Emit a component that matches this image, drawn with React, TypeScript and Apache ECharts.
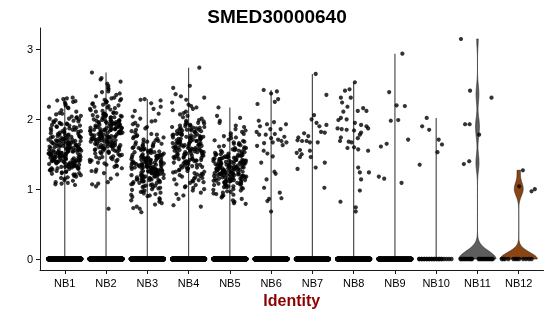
import React, { useEffect, useRef } from "react";
import * as echarts from "echarts";

const CATEGORIES = ["NB1", "NB2", "NB3", "NB4", "NB5", "NB6", "NB7", "NB8", "NB9", "NB10", "NB11", "NB12"];
const Y_TICKS = [0, 1, 2, 3];
const TITLE = "SMED30000640";
const X_TITLE = "Identity";

// dense clusters: non-zero expression values
const NB1_VALUES = [
  2.31, 2.30, 2.29, 2.27, 2.26, 2.25, 2.24, 2.22, 2.20, 2.18, 2.17, 2.16, 2.13, 2.11,
  2.09, 2.08, 2.07, 2.05, 2.04, 2.03, 2.02, 2.01, 2.01, 2.00,
  1.99, 1.98, 1.97, 1.97, 1.96, 1.95, 1.94, 1.94, 1.93, 1.93, 1.92, 1.91, 1.91, 1.90,
  1.89, 1.89, 1.88, 1.87, 1.87, 1.86, 1.85, 1.85, 1.84, 1.83, 1.83, 1.82, 1.82, 1.81, 1.81, 1.80,
  1.79, 1.79, 1.78, 1.78, 1.77, 1.77, 1.76, 1.76, 1.75, 1.75, 1.75, 1.74, 1.74, 1.73, 1.73, 1.72, 1.72, 1.72, 1.71, 1.71, 1.70, 1.70,
  1.69, 1.69, 1.69, 1.68, 1.68, 1.68, 1.67, 1.67, 1.67, 1.66, 1.66, 1.66, 1.65, 1.65, 1.65, 1.64, 1.64, 1.64, 1.63, 1.63, 1.63, 1.62, 1.62, 1.62, 1.61, 1.61, 1.61, 1.60, 1.60, 1.60,
  1.59, 1.59, 1.59, 1.58, 1.58, 1.58, 1.58, 1.57, 1.57, 1.57, 1.56, 1.56, 1.56, 1.56, 1.55, 1.55, 1.55, 1.54, 1.54, 1.54, 1.54, 1.53, 1.53, 1.53, 1.52, 1.52, 1.52, 1.52, 1.51, 1.51, 1.51, 1.50, 1.50, 1.50, 1.50, 1.50,
  1.49, 1.49, 1.49, 1.48, 1.48, 1.48, 1.48, 1.47, 1.47, 1.47, 1.46, 1.46, 1.46, 1.46, 1.45, 1.45, 1.45, 1.44, 1.44, 1.44, 1.44, 1.43, 1.43, 1.43, 1.42, 1.42, 1.42, 1.42, 1.41, 1.41, 1.41, 1.40, 1.40, 1.40, 1.40, 1.40,
  1.39, 1.39, 1.39, 1.38, 1.38, 1.38, 1.37, 1.37, 1.37, 1.36, 1.36, 1.36, 1.35, 1.35, 1.35, 1.34, 1.34, 1.33, 1.33, 1.33, 1.32, 1.32, 1.32, 1.31, 1.31, 1.30, 1.30, 1.30,
  1.29, 1.29, 1.28, 1.28, 1.27, 1.27, 1.26, 1.25, 1.25, 1.24, 1.23, 1.23, 1.22, 1.21, 1.21, 1.20,
  1.19, 1.18, 1.17, 1.16, 1.15, 1.13, 1.12, 1.10, 1.09, 1.08, 1.07, 1.06,
];
const NB2_VALUES = [
  2.67, 2.59, 2.57, 2.54, 2.51, 2.48, 2.45, 2.43, 2.40, 2.39, 2.37, 2.35, 2.33, 2.31, 2.30,
  2.29, 2.28, 2.27, 2.26, 2.25, 2.24, 2.23, 2.22, 2.21, 2.20, 2.19, 2.18, 2.17, 2.16, 2.15, 2.14, 2.13, 2.12, 2.11, 2.10,
  2.09, 2.09, 2.08, 2.08, 2.07, 2.07, 2.06, 2.06, 2.05, 2.05, 2.04, 2.04, 2.03, 2.03, 2.02, 2.02, 2.01, 2.00,
  1.99, 1.99, 1.99, 1.98, 1.98, 1.98, 1.97, 1.97, 1.97, 1.96, 1.96, 1.96, 1.95, 1.95, 1.94, 1.94, 1.94, 1.93, 1.93, 1.93, 1.92, 1.92, 1.91, 1.91, 1.90, 1.90,
  1.89, 1.89, 1.89, 1.88, 1.88, 1.88, 1.87, 1.87, 1.87, 1.86, 1.86, 1.86, 1.85, 1.85, 1.85, 1.84, 1.84, 1.84, 1.83, 1.83, 1.83, 1.82, 1.82, 1.82, 1.81, 1.81, 1.81, 1.80, 1.80, 1.80,
  1.79, 1.79, 1.79, 1.78, 1.78, 1.78, 1.77, 1.77, 1.77, 1.76, 1.76, 1.76, 1.75, 1.75, 1.75, 1.74, 1.74, 1.74, 1.73, 1.73, 1.73, 1.72, 1.72, 1.72, 1.71, 1.71, 1.71, 1.70, 1.70, 1.70,
  1.69, 1.69, 1.68, 1.68, 1.67, 1.67, 1.66, 1.66, 1.66, 1.65, 1.65, 1.64, 1.64, 1.63, 1.63, 1.63, 1.62, 1.62, 1.61, 1.61, 1.61, 1.60, 1.60, 1.60,
  1.59, 1.59, 1.58, 1.58, 1.57, 1.57, 1.56, 1.56, 1.55, 1.55, 1.54, 1.54, 1.53, 1.53, 1.52, 1.51, 1.51, 1.50,
  1.49, 1.48, 1.47, 1.46, 1.46, 1.45, 1.44, 1.43, 1.42, 1.42, 1.41, 1.40,
  1.39, 1.38, 1.37, 1.35, 1.34, 1.33, 1.32, 1.30, 1.28, 1.26, 1.25, 1.23, 1.21,
  1.15, 1.10, 1.08, 1.07, 1.04, 0.72,
];
const NB3_VALUES = [
  2.29, 2.28, 2.27, 2.23, 2.18, 2.15, 2.12, 2.08, 2.04, 2.01,
  1.98, 1.97, 1.95, 1.93, 1.91, 1.89, 1.87, 1.85, 1.83, 1.81,
  1.79, 1.78, 1.77, 1.76, 1.75, 1.74, 1.73, 1.72, 1.71, 1.70,
  1.69, 1.68, 1.67, 1.67, 1.66, 1.65, 1.64, 1.63, 1.63, 1.62, 1.61, 1.60,
  1.59, 1.59, 1.58, 1.58, 1.57, 1.57, 1.56, 1.56, 1.55, 1.55, 1.54, 1.54, 1.53, 1.53, 1.52, 1.52, 1.51, 1.50,
  1.49, 1.49, 1.49, 1.48, 1.48, 1.48, 1.47, 1.47, 1.47, 1.46, 1.46, 1.46, 1.45, 1.45, 1.45, 1.44, 1.44, 1.44, 1.43, 1.43, 1.43, 1.42, 1.42, 1.42, 1.41, 1.41, 1.40, 1.40,
  1.39, 1.39, 1.39, 1.39, 1.38, 1.38, 1.38, 1.37, 1.37, 1.37, 1.37, 1.36, 1.36, 1.36, 1.35, 1.35, 1.35, 1.35, 1.34, 1.34, 1.34, 1.33, 1.33, 1.33, 1.32, 1.32, 1.32, 1.32, 1.31, 1.31, 1.31, 1.30, 1.30, 1.30,
  1.29, 1.29, 1.29, 1.28, 1.28, 1.28, 1.28, 1.27, 1.27, 1.27, 1.26, 1.26, 1.26, 1.25, 1.25, 1.25, 1.25, 1.24, 1.24, 1.24, 1.23, 1.23, 1.23, 1.22, 1.22, 1.22, 1.21, 1.21, 1.21, 1.20, 1.20, 1.20,
  1.19, 1.19, 1.18, 1.18, 1.18, 1.17, 1.17, 1.16, 1.16, 1.16, 1.15, 1.15, 1.14, 1.14, 1.14, 1.13, 1.13, 1.12, 1.12, 1.12, 1.11, 1.11, 1.10, 1.10,
  1.09, 1.09, 1.08, 1.07, 1.07, 1.06, 1.05, 1.05, 1.04, 1.03, 1.03, 1.02, 1.01, 1.00,
  0.99, 0.98, 0.97, 0.96, 0.95, 0.94, 0.93, 0.92, 0.91, 0.90,
  0.89, 0.87, 0.85, 0.84, 0.82, 0.80, 0.78, 0.75, 0.73, 0.72, 0.67,
];
const NB4_VALUES = [
  2.74, 2.48, 2.45, 2.36, 2.33, 2.31, 2.28, 2.24, 2.21,
  2.19, 2.17, 2.15, 2.13, 2.11, 2.09, 2.07, 2.05, 2.03, 2.01,
  1.99, 1.98, 1.97, 1.96, 1.95, 1.94, 1.94, 1.93, 1.92, 1.91, 1.91, 1.90,
  1.89, 1.89, 1.88, 1.88, 1.87, 1.87, 1.86, 1.86, 1.85, 1.85, 1.84, 1.84, 1.83, 1.83, 1.82, 1.82, 1.81, 1.80,
  1.79, 1.79, 1.78, 1.78, 1.78, 1.77, 1.77, 1.76, 1.76, 1.75, 1.75, 1.75, 1.74, 1.74, 1.73, 1.73, 1.72, 1.72, 1.72, 1.71, 1.71, 1.70,
  1.69, 1.69, 1.69, 1.68, 1.68, 1.67, 1.67, 1.67, 1.66, 1.66, 1.65, 1.65, 1.65, 1.64, 1.64, 1.63, 1.63, 1.63, 1.62, 1.62, 1.61, 1.61, 1.60, 1.60,
  1.59, 1.59, 1.59, 1.58, 1.58, 1.57, 1.57, 1.57, 1.56, 1.56, 1.55, 1.55, 1.55, 1.54, 1.54, 1.53, 1.53, 1.53, 1.52, 1.52, 1.51, 1.51, 1.50, 1.50,
  1.49, 1.49, 1.48, 1.48, 1.47, 1.47, 1.46, 1.46, 1.45, 1.45, 1.44, 1.44, 1.43, 1.43, 1.42, 1.42, 1.41, 1.41, 1.40, 1.40,
  1.39, 1.39, 1.38, 1.37, 1.37, 1.36, 1.35, 1.35, 1.34, 1.33, 1.33, 1.32, 1.31, 1.31, 1.30, 1.30,
  1.29, 1.28, 1.27, 1.26, 1.25, 1.25, 1.24, 1.23, 1.22, 1.21, 1.21, 1.20,
  1.19, 1.18, 1.17, 1.16, 1.15, 1.14, 1.13, 1.12, 1.11, 1.10,
  1.09, 1.07, 1.06, 1.04, 1.03, 1.02, 1.00, 0.98, 0.95, 0.93, 0.91, 0.86, 0.77, 0.75,
];
const NB5_VALUES = [
  2.17, 2.05, 2.02, 1.98, 1.95, 1.91, 1.89, 1.86, 1.84, 1.82, 1.80,
  1.79, 1.77, 1.76, 1.74, 1.73, 1.71, 1.70,
  1.69, 1.68, 1.67, 1.66, 1.65, 1.64, 1.63, 1.62, 1.61, 1.60,
  1.59, 1.59, 1.58, 1.57, 1.57, 1.56, 1.55, 1.55, 1.54, 1.53, 1.53, 1.52, 1.51, 1.51, 1.50, 1.50,
  1.49, 1.49, 1.49, 1.48, 1.48, 1.48, 1.47, 1.47, 1.46, 1.46, 1.46, 1.45, 1.45, 1.45, 1.44, 1.44, 1.43, 1.43, 1.43, 1.42, 1.42, 1.42, 1.41, 1.41, 1.41, 1.40, 1.40, 1.40,
  1.39, 1.39, 1.39, 1.39, 1.38, 1.38, 1.38, 1.38, 1.37, 1.37, 1.37, 1.36, 1.36, 1.36, 1.36, 1.35, 1.35, 1.35, 1.34, 1.34, 1.34, 1.34, 1.33, 1.33, 1.33, 1.32, 1.32, 1.32, 1.32, 1.31, 1.31, 1.31, 1.30, 1.30, 1.30, 1.30,
  1.29, 1.29, 1.29, 1.29, 1.28, 1.28, 1.28, 1.28, 1.27, 1.27, 1.27, 1.26, 1.26, 1.26, 1.26, 1.25, 1.25, 1.25, 1.24, 1.24, 1.24, 1.24, 1.23, 1.23, 1.23, 1.22, 1.22, 1.22, 1.22, 1.21, 1.21, 1.21, 1.20, 1.20, 1.20, 1.20,
  1.19, 1.19, 1.19, 1.18, 1.18, 1.18, 1.17, 1.17, 1.16, 1.16, 1.16, 1.15, 1.15, 1.15, 1.14, 1.14, 1.13, 1.13, 1.13, 1.12, 1.12, 1.12, 1.11, 1.11, 1.11, 1.10, 1.10, 1.10,
  1.09, 1.09, 1.08, 1.08, 1.07, 1.07, 1.06, 1.06, 1.05, 1.04, 1.04, 1.03, 1.03, 1.02, 1.01, 1.00,
  0.99, 0.98, 0.97, 0.96, 0.95, 0.94, 0.93, 0.92, 0.91, 0.90, 0.88, 0.86, 0.84, 0.82, 0.80, 0.79,
];

// sparse clusters: [jitter offset, value]
const NB6_POINTS = [
  [-0.18, 2.42], [0, 2.37], [0.14, 2.40], [0.17, 2.29], [0.09, 2.25], [-0.33, 2.22], [-0.3, 1.98], [-0.1, 1.93],
  [0.07, 1.96], [0.36, 1.93], [-0.27, 1.9], [-0.02, 1.86], [0.23, 1.86], [-0.35, 1.82], [-0.29, 1.78], [-0.13, 1.78],
  [0.09, 1.79], [0, 1.73], [0.17, 1.71], [0.32, 1.75], [-0.17, 1.66], [0.04, 1.67], [0.25, 1.69], [0.37, 1.67],
  [-0.34, 1.62], [0.28, 1.63], [-0.18, 1.55], [-0.09, 1.51], [0.04, 1.47], [-0.24, 1.38], [0.08, 1.25], [0.11, 1.22],
  [-0.11, 1.14], [-0.17, 1.02], [0.21, 0.95], [0.25, 0.87], [-0.05, 0.86], [-0.09, 0.83], [0, 0.68],
];
const NB7_POINTS = [
  [0.08, 2.65], [0.34, 2.35], [0.04, 2.06], [-0.02, 2.0], [0.1, 1.95], [0.17, 1.9], [0.34, 1.92], [0.21, 1.82],
  [0.3, 1.81], [-0.2, 1.8], [-0.34, 1.74], [-0.1, 1.76], [-0.25, 1.69], [-0.36, 1.7], [-0.14, 1.69], [-0.06, 1.67],
  [0.13, 1.67], [-0.3, 1.56], [-0.38, 1.52], [-0.26, 1.5], [-0.3, 1.46], [-0.06, 1.55], [-0.04, 1.46], [0.3, 1.38],
  [0.08, 1.31], [-0.36, 1.29], [0.29, 1.02],
];
const NB8_POINTS = [
  [0.03, 2.53], [-0.21, 2.41], [-0.1, 2.43], [-0.31, 2.31], [-0.07, 2.31], [-0.28, 2.24], [-0.15, 2.18], [0.23, 2.16],
  [0.31, 2.12], [0.1, 2.12], [-0.25, 2.11], [-0.31, 2.02], [-0.37, 1.99], [-0.17, 2.0], [0.03, 1.95], [0.18, 1.92],
  [0.31, 1.9], [0.35, 1.87], [-0.39, 1.87], [-0.29, 1.86], [-0.17, 1.85], [0.01, 1.84], [0.18, 1.81], [0.15, 1.78],
  [-0.31, 1.74], [0.1, 1.73], [-0.33, 1.69], [-0.12, 1.68], [-0.05, 1.67], [-0.15, 1.59], [0.01, 1.6], [0.11, 1.57],
  [0.35, 1.55], [0.11, 1.31], [0.15, 1.24], [0.37, 1.24], [0.18, 1.14], [0.15, 0.98], [-0.32, 0.82], [0.05, 0.74],
  [0.05, 0.68],
];
const NB9_POINTS = [
  [0.18, 2.94], [-0.14, 2.39], [0.04, 2.2], [0.24, 2.19], [-0.1, 1.98], [0.08, 1.99], [0.32, 1.71], [-0.2, 1.65],
  [-0.34, 1.61], [-0.39, 1.18], [-0.26, 1.15], [0.16, 1.09],
];
const NB10_POINTS = [[-0.23, 2.02], [-0.34, 1.9], [-0.17, 1.85], [0.06, 1.71], [0.14, 1.64], [0.03, 1.53], [-0.4, 1.35]];
const NB11_POINTS = [[-0.4, 3.15], [-0.18, 2.41], [0.34, 2.31], [-0.3, 1.93], [-0.19, 1.93], [0.04, 1.78], [-0.33, 1.36], [-0.2, 1.4]];
const NB12_POINTS = [[0.1, 1.27], [0.01, 1.04], [0.31, 0.97], [0.39, 1.0]];

// cells with zero expression
const ZERO_COUNTS = [900, 850, 950, 900, 1000, 700, 600, 650, 500];
const NB10_ZEROS = [
  -0.41, -0.41, -0.35, -0.35, -0.29, -0.29, -0.23, -0.23, -0.17, -0.17, -0.11, -0.11,
  -0.05, -0.05, 0.01, 0.01, 0.07, 0.07, 0.13, 0.13, 0.19, 0.25, 0.31, 0.37,
];
const NB11_ZEROS = [-0.41, -0.39, -0.36, -0.33, -0.3, -0.27, -0.24, -0.21, -0.18, -0.15, -0.13, 0.03, 0.05, 0.08, 0.11, 0.14, 0.17, 0.2, 0.23, 0.26, 0.29, 0.32, 0.35, 0.37];
const NB12_ZEROS = [-0.41, -0.37, -0.33, -0.25, -0.13, -0.08, -0.04, 0.01, 0.11, 0.18, 0.25, 0.31];

const VIOLIN_FILL: Record<number, string> = { 10: "#5e5e5e", 11: "#8B4513" };

function jitter(j: number, k: number) {
  const s = Math.sin((j + 1) * 12.9898 + (k + 1) * 78.233) * 43758.5453;
  return (s - Math.floor(s)) * 0.8 - 0.4;
}

function q7(sorted: number[], p: number) {
  const h = (sorted.length - 1) * p;
  const lo = Math.floor(h);
  const hi = Math.ceil(h);
  return sorted[lo] + (h - lo) * (sorted[hi] - sorted[lo]);
}

type Violin = { line: boolean; max: number; grid: number[]; w: number[] };

function violin(all: number[]): Violin {
  const s = [...all].sort((a, b) => a - b);
  const n = s.length;
  const mean = s.reduce((a, b) => a + b, 0) / n;
  const sd = Math.sqrt(s.reduce((a, b) => a + (b - mean) * (b - mean), 0) / (n - 1));
  const iqr = q7(s, 0.75) - q7(s, 0.25);
  const lo = Math.min(sd, iqr / 1.34);
  const max = s[n - 1];
  if (lo <= 0) return { line: true, max, grid: [], w: [] };
  const bw = 0.9 * lo * Math.pow(n, -0.2);
  const grid: number[] = [];
  const dens: number[] = [];
  const N = 256;
  for (let k = 0; k < N; k++) {
    const y = s[0] + ((max - s[0]) * k) / (N - 1);
    let d = 0;
    for (const x of s) {
      const z = (y - x) / bw;
      d += Math.exp(-0.5 * z * z);
    }
    grid.push(y);
    dens.push(d);
  }
  const m = Math.max(...dens);
  return { line: false, max, grid, w: dens.map((d) => (0.45 * d) / m) };
}

export default function App() {
  const ref = useRef<HTMLDivElement>(null);
  useEffect(() => {
    if (!ref.current) return;
    const chart = echarts.init(ref.current, undefined, { renderer: "svg" });

    const dense = [NB1_VALUES, NB2_VALUES, NB3_VALUES, NB4_VALUES, NB5_VALUES];
    const sparse = [NB6_POINTS, NB7_POINTS, NB8_POINTS, NB9_POINTS, NB10_POINTS, NB11_POINTS, NB12_POINTS];
    const zeroLists: number[][] = [];
    ZERO_COUNTS.forEach((c) => {
      const arr: number[] = [];
      for (let j = 0; j < c; j++) arr.push(-0.4 + (0.8 * (j + 0.5)) / c);
      zeroLists.push(arr);
    });
    zeroLists.push(NB10_ZEROS, NB11_ZEROS, NB12_ZEROS);

    const valuesByCat: number[][] = [...dense, ...sparse.map((p) => p.map((q) => q[1]))];

    const pts: number[][] = [];
    dense.forEach((vals, i) => vals.forEach((v, j) => pts.push([i + jitter(j, i), v])));
    sparse.forEach((pairs, k) => pairs.forEach(([dx, v]) => pts.push([k + 5 + dx, v])));
    const zeroPts: number[][] = [];
    zeroLists.forEach((offs, i) => offs.forEach((dx) => zeroPts.push([i + dx, 0])));

    const violins = valuesByCat.map((vals, i) => violin([...zeroLists[i].map(() => 0), ...vals]));

    const font = "'Liberation Sans', Arial, Helvetica, sans-serif";
    const axisColor = "#1a1a1a";

    chart.setOption({
      animation: false,
      textStyle: { fontFamily: font },
      grid: { left: 40, right: 6.5, top: 28, bottom: 46, containLabel: false, outerBoundsMode: "none" },
      graphic: [
        {
          type: "text",
          x: 277,
          y: 16,
          style: { text: TITLE, font: `bold 19px ${font}`, fill: "#000", textAlign: "center", textVerticalAlign: "middle" },
        },
      ],
      xAxis: {
        type: "value",
        min: -0.6,
        max: 11.6,
        name: X_TITLE,
        nameLocation: "middle",
        nameGap: 21,
        nameTextStyle: { color: "#8B0000", fontWeight: "bold", fontSize: 16, fontFamily: font },
        splitLine: { show: false },
        axisLine: { show: true, onZero: false, lineStyle: { color: axisColor, width: 1 } },
        axisTick: { show: true, length: 4, customValues: CATEGORIES.map((_, i) => i), lineStyle: { color: axisColor } },
        axisLabel: {
          customValues: CATEGORIES.map((_, i) => i),
          formatter: (v: number) => CATEGORIES[Math.round(v)] ?? "",
          color: "#000",
          fontSize: 11,
          margin: 7,
          fontFamily: font,
        },
      },
      yAxis: {
        type: "value",
        min: -0.1575,
        max: 3.3075,
        splitLine: { show: false },
        axisLine: { show: true, onZero: false, lineStyle: { color: axisColor, width: 1 } },
        axisTick: { show: true, length: 4, customValues: Y_TICKS, lineStyle: { color: axisColor } },
        axisLabel: { customValues: Y_TICKS, color: "#000", fontSize: 11, margin: 7, fontFamily: font },
      },
      series: [
        {
          type: "custom",
          data: CATEGORIES.map((_, i) => [i, 0]),
          renderItem: (_p: any, api: any) => {
            const i = api.value(0) as number;
            const v = violins[i];
            if (v.line) {
              const a = api.coord([i, 0]);
              const b = api.coord([i, v.max]);
              return {
                type: "line",
                shape: { x1: a[0], y1: a[1], x2: b[0], y2: b[1] },
                style: { stroke: "#4d4d4d", lineWidth: 1.2 },
              };
            }
            const right = v.grid.map((y, k) => api.coord([i + v.w[k], y]));
            const left = v.grid.map((y, k) => api.coord([i - v.w[k], y])).reverse();
            return {
              type: "polygon",
              shape: { points: [...right, ...left] },
              style: { fill: VIOLIN_FILL[i] ?? "#888", stroke: "#222", lineWidth: 0.6 },
            };
          },
          z: 1,
        },
        {
          type: "scatter",
          data: zeroPts,
          symbol: "circle",
          symbolSize: 4.4,
          itemStyle: { color: "#000" },
          z: 2,
        },
        {
          type: "scatter",
          data: pts,
          symbol: "circle",
          symbolSize: 4.2,
          itemStyle: { color: "#000" },
          z: 3,
        },
      ],
    });
    return () => chart.dispose();
  }, []);
  return <div ref={ref} style={{ position: "fixed", left: 0, top: 0, width: 550, height: 316 }} />;
}
